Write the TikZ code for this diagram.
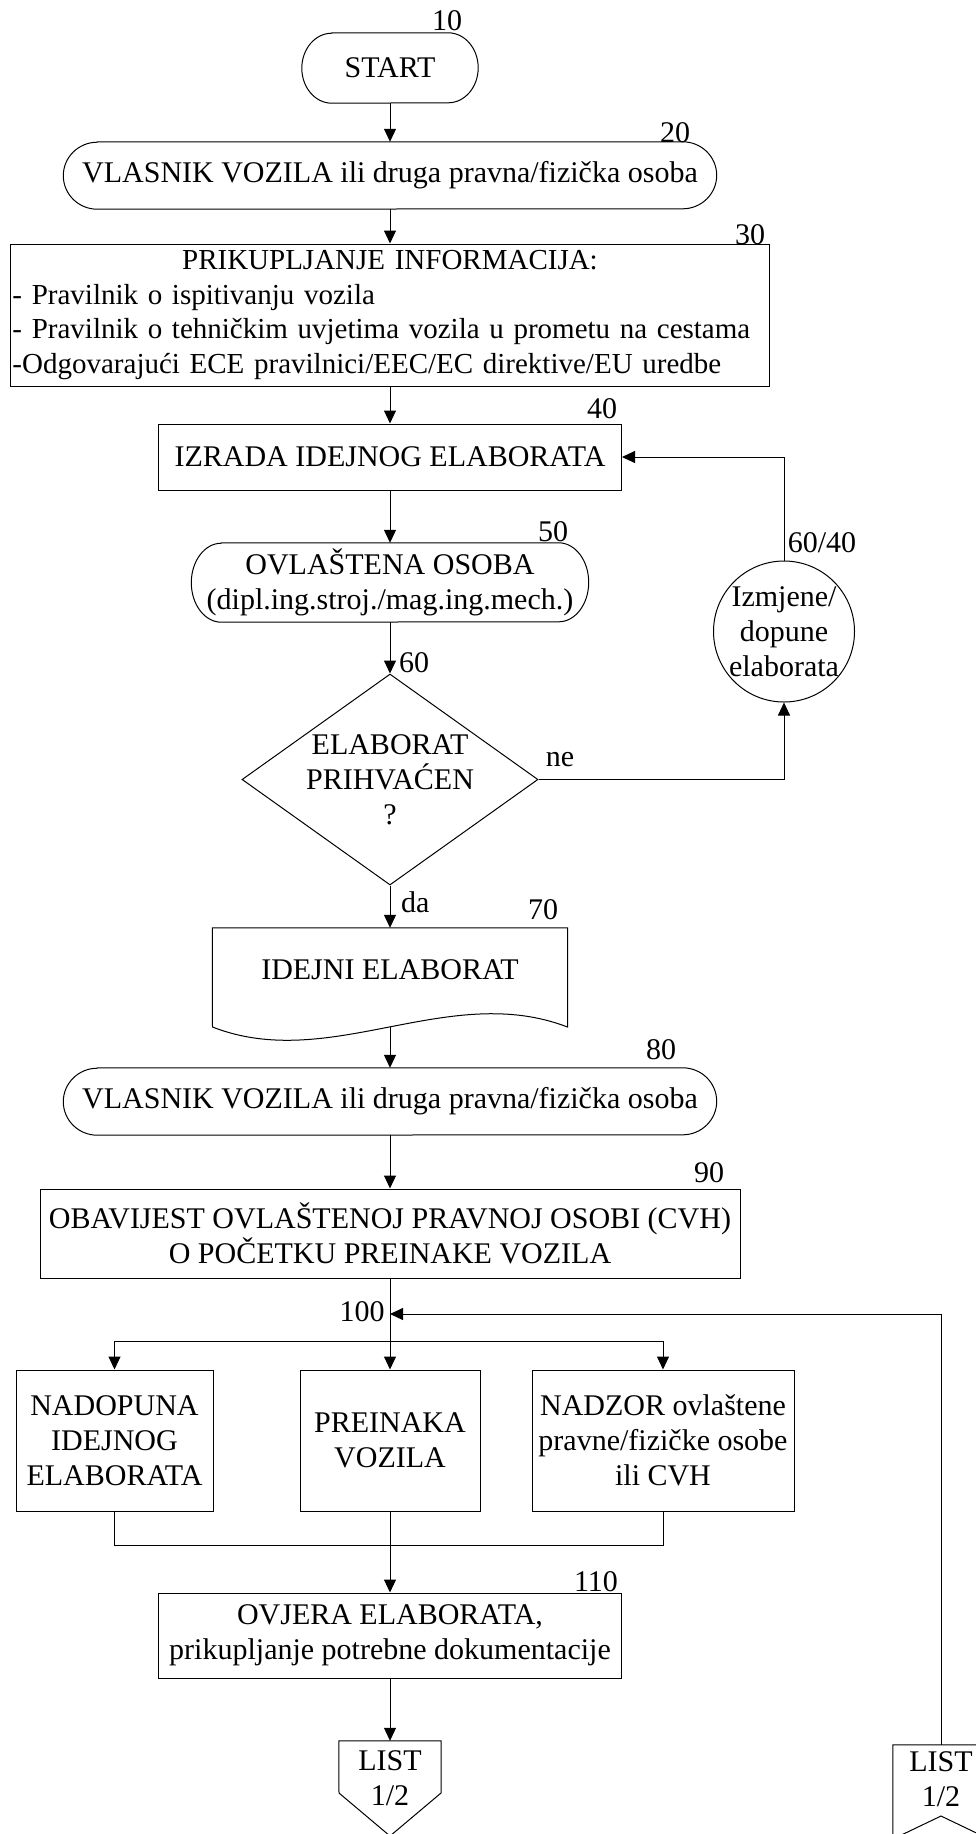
\documentclass[tikz,border=0pt]{standalone}
\usepackage{fontspec}
\setmainfont{Liberation Serif}
\usetikzlibrary{arrows.meta,shapes.geometric}

\tikzset{
  outline/.style={draw=black, line width=1pt},
  flowbox/.style={outline, rectangle, inner sep=0pt, align=center},
  textonly/.style={inner sep=0pt, align=center},
  wire/.style={draw=black, line width=1pt},
  arr/.style={wire, -{Triangle[length=13pt,width=12pt]}},
  tag/.style={inner sep=0pt},
}

% terminal outline with elliptical ends around a node: #1 node, #2 x radius, #3 y radius
\newcommand\pilloutline[3]{%
  \draw[outline] ([xshift=#2]#1.north west) -- ([xshift=-#2]#1.north east)
    arc[start angle=90, end angle=-90, x radius=#2, y radius=#3]
    -- ([xshift=#2]#1.south west)
    arc[start angle=270, end angle=90, x radius=#2, y radius=#3] -- cycle;}

\begin{document}
\begin{tikzpicture}[x=1pt, y=1pt, font=\fontsize{30}{35}\selectfont]
\useasboundingbox (0,0) rectangle (976,-1834);
\clip (0,0) rectangle (976,-1834);

% ---- main column ----
\node[textonly, minimum width=176pt, minimum height=70pt] (n10) at (390,-68) {START};
\pilloutline{n10}{30pt}{35pt}

\node[textonly, minimum width=653pt, minimum height=67pt] (n20) at (390,-175.5)
  {VLASNIK VOZILA ili druga pravna/fizička osoba};
\pilloutline{n20}{34pt}{33.5pt}

\node[flowbox, align=left, text width=755pt, inner xsep=2pt, minimum height=142pt,
      font=\fontsize{29}{34.5}\selectfont] (n30) at (390,-315)
  {\noindent\makebox[\hsize][c]{PRIKUPLJANJE INFORMACIJA:}\\
   \mbox{- Pravilnik o ispitivanju vozila}\\
   \mbox{- Pravilnik o tehničkim uvjetima vozila u prometu na cestama}\\
   \mbox{-Odgovarajući ECE pravilnici/EEC/EC direktive/EU uredbe}};

\node[flowbox, minimum width=463pt, minimum height=66pt] (n40) at (390,-457) {IZRADA IDEJNOG ELABORATA};

\node[textonly, minimum width=397pt, minimum height=79pt] (n50) at (390,-582.5)
  {OVLAŠTENA OSOBA\\(dipl.ing.stroj./mag.ing.mech.)};
\pilloutline{n50}{30pt}{39.5pt}

\node[diamond, outline, inner sep=0pt, minimum width=296pt, minimum height=211pt,
      label={[textonly]center:ELABORAT\\PRIHVAĆEN\\?}] (d60) at (390,-779.5) {};

\node[circle, outline, inner sep=0pt, minimum size=141pt,
      label={[textonly]center:Izmjene/\\dopune\\elaborata}] (c6040) at (784,-631.5) {};

% document symbol
\node[textonly, minimum width=355pt, minimum height=84pt] (n70) at (390,-970) {IDEJNI ELABORAT};
\draw[outline] (n70.north west) -- (n70.north east) -- (567.5,-1027)
  .. controls (448,-981) and (330,-1073) .. (212.5,-1027) -- cycle;
\coordinate (n70b) at (390,-1027);

\node[textonly, minimum width=653pt, minimum height=67pt] (n80) at (390,-1101.5)
  {VLASNIK VOZILA ili druga pravna/fizička osoba};
\pilloutline{n80}{34pt}{33.5pt}

\node[flowbox, minimum width=700pt, minimum height=89pt] (n90) at (390,-1233.5)
  {OBAVIJEST OVLAŠTENOJ PRAVNOJ OSOBI (CVH)\\O POČETKU PREINAKE VOZILA};

\node[flowbox, minimum width=197pt, minimum height=141pt] (nA) at (114.5,-1440.5)
  {NADOPUNA\\IDEJNOG\\ELABORATA};
\node[flowbox, minimum width=180pt, minimum height=141pt] (nB) at (390,-1440.5)
  {PREINAKA\\VOZILA};
\node[flowbox, minimum width=262pt, minimum height=141pt] (nC) at (663,-1440.5)
  {NADZOR ovlaštene\\pravne/fizičke osobe\\ili CVH};

\node[flowbox, minimum width=463pt, minimum height=85pt] (n110) at (390,-1635.5)
  {OVJERA ELABORATA,\\prikupljanje potrebne dokumentacije};

% off-page connectors
\node[textonly, minimum width=102pt, minimum height=75pt] (l1) at (390,-1778.5) {LIST\\1/2};
\draw[outline] (l1.north west) -- (l1.north east) -- (441,-1793) -- (390,-1836) -- (339,-1793) -- cycle;

\node[textonly, minimum width=96pt, minimum height=69pt] (l2) at (941,-1779.5) {LIST\\1/2};
\draw[outline] (l2.north west) -- (l2.north east) -- (989,-1839) -- (941,-1816) -- (893,-1839) -- cycle;

% ---- junction points ----
\coordinate (j100) at (390,-1314);
\coordinate (br) at (390,-1341);
\coordinate (mg) at (390,-1545);

% ---- connectors ----
\draw[arr] (n10.south) -- (n20.north);
\draw[arr] (n20.south) -- (n30.north);
\draw[arr] (n30.south) -- (n40.north);
\draw[arr] (n40.south) -- (n50.north);
\draw[arr] (n50.south) -- (d60.north);
\draw[arr] (d60.south) -- (n70.north);
\draw[arr] (d60.east) -| (c6040.south);
\draw[arr] (c6040.north) |- (n40.east);
\draw[arr] (n70b) -- (n80.north);
\draw[arr] (n80.south) -- (n90.north);
\draw[arr] (n90.south) -- (nB.north);
\draw[arr] (br) -| (nA.north);
\draw[arr] (br) -| (nC.north);
\draw[arr] (l2.north) |- (j100);
\draw[wire] (nA.south) |- (mg) -| (nC.south);
\draw[arr] (nB.south) -- (n110.north);
\draw[arr] (n110.south) -- (l1.north);

% ---- reference numbers and branch labels ----
\node[tag] (t10) at (447,-21) {10};
\node[tag] (t20) at (675,-133) {20};
\node[tag] (t30) at (750,-235) {30};
\node[tag] (t40) at (602,-409) {40};
\node[tag] (t50) at (553,-532) {50};
\node[tag, anchor=west] (t60) at (399,-663) {60};
\node[tag] (t6040) at (822,-543) {60/40};
\node[tag] (tne) at (560,-760) {ne};
\node[tag, anchor=west] (tda) at (401,-902) {da};
\node[tag] (t70) at (543,-910) {70};
\node[tag] (t80) at (661,-1050) {80};
\node[tag] (t90) at (709,-1173) {90};
\node[tag] (t100) at (362,-1312) {100};
\node[tag] (t110) at (596,-1582) {110};
\end{tikzpicture}
\end{document}
